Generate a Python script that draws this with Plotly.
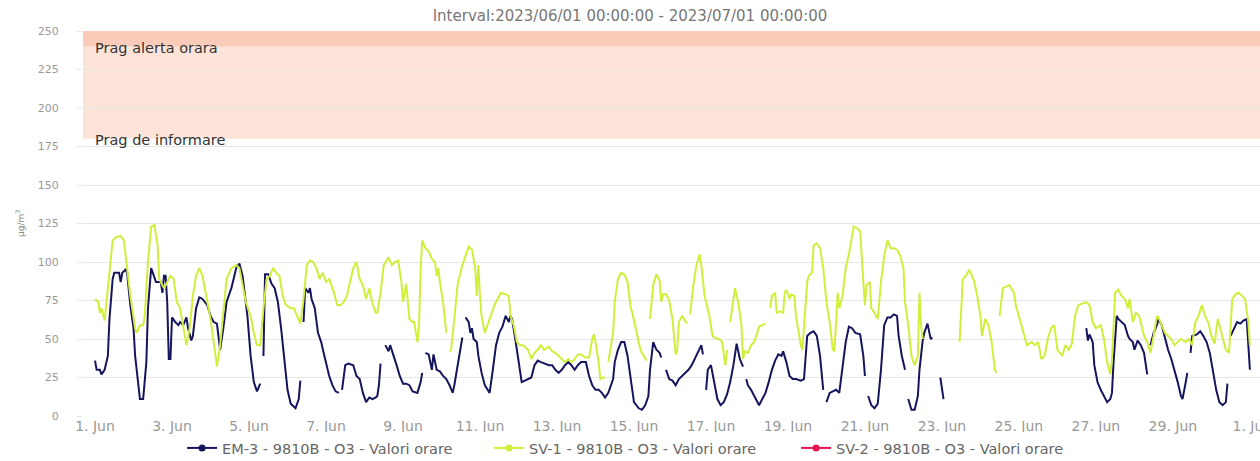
import pandas as pd
import plotly.graph_objects as go

# ---------------- data (hours since 2023-06-01 00:00, value in ug/m3) ----------------
em3_points = [
    (0,36),(1,30),(3,30),(4,27),(6,30),(8,39),(9,63),(11,89),(12,93),(15,93),(16,87),(17,93),(19,95),(20,93),
    (22,72),(24,57),(25,39),(27,22),(28,11),(30,11),(32,35),(33,70),(35,96),(36,93),(38,87),(41,87),(42,80),
    (43,91),(44,91),(45,74),(46,37),(47,37),(48,64),(50,61),(52,59),(53,61),(55,59),(57,64),(58,57),(60,49),
    (61,52),(63,70),(65,77),(67,76),(70,72),(72,65),(74,61),(76,60),(77,50),(78,43),(80,57),(82,74),(85,83),
    (88,96),(90,99),(92,91),(95,65),(97,39),(99,22),(101,16),(103,21),(104,None),(105,39),(106,92),(108,92),
    (110,86),(112,83),(114,74),(116,57),(118,35),(120,17),(122,8),(125,5),(127,11),(128,23),(129,None),
    (130,61),(131,83),(133,80),(134,83),(135,76),(137,70),(139,54),(141,48),(143,39),(146,26),(148,20),
    (150,16),(152,15),(153,None),(154,17),(156,33),(158,34),(161,33),(163,26),(165,24),(167,15),(169,9),
    (171,12),(173,11),(175,12),(176,13),(177,20),(178,34),(179,None),(181,46),(183,42),(184,46),(186,40),
    (188,33),(190,26),(192,21),(194,21),(196,20),(198,16),(201,15),(203,22),(204,28),(205,None),(206,41),
    (208,40),(210,30),(211,40),(213,30),(215,29),(217,26),(219,24),(221,20),(223,15),(224,20),(226,33),
    (228,43),(229,51),(230,None),(231,64),(233,61),(234,54),(235,57),(236,50),(238,48),(239,39),(241,28),
    (243,20),(245,17),(246,15),(248,30),(250,46),(252,54),(254,58),(256,65),(258,61),(259,65),(260,63),
    (262,50),(264,35),(266,22),(268,23),(270,24),(272,25),(274,33),(276,36),(278,35),(280,34),(283,33),
    (285,33),(287,30),(289,28),(291,30),(293,33),(295,35),(297,33),(299,30),(301,33),(303,35),(306,35),
    (308,26),(310,20),(312,17),(314,17),(316,15),(318,12),(320,15),(323,24),(324,35),(326,43),(328,48),
    (330,48),(332,39),(334,24),(336,9),(339,5),(341,4),(343,7),(345,13),(346,30),(348,48),(350,43),(352,41),
    (353,38),(354,None),(356,30),(358,24),(360,23),(362,20),(364,24),(366,26),(368,28),(370,30),(372,33),
    (374,37),(376,41),(378,46),(379,40),(380,None),(381,17),(382,30),(384,33),(386,22),(388,11),(390,7),
    (392,9),(394,14),(396,22),(398,33),(400,47),(402,37),(404,32),(405,None),(406,24),(407,20),(409,17),
    (411,13),(414,7),(416,11),(418,15),(420,22),(422,30),(424,36),(426,40),(428,39),(429,42),(431,35),
    (433,26),(435,24),(437,24),(440,23),(442,24),(444,52),(446,54),(448,55),(450,52),(452,39),(454,17),
    (455,None),(456,9),(458,15),(460,16),(462,17),(464,15),(466,33),(468,48),(470,58),(472,57),(474,54),
    (477,53),(479,39),(480,26),(481,None),(482,13),(484,7),(486,5),(488,8),(490,30),(492,59),(494,64),
    (496,64),(498,66),(500,65),(501,52),(503,39),(505,30),(506,None),(507,11),(509,4),(511,4),(513,13),
    (514,30),(516,49),(517,54),(519,60),(521,50),(522,51),(523,None),(527,25),(529,11),(530,None),
    (618,57),(619,49),(620,53),(622,48),(623,33),(625,22),(627,17),(629,13),(631,9),(633,11),(634,15),
    (635,35),(637,65),(638,63),(640,61),(642,59),(644,52),(645,50),(647,48),(648,43),(650,49),(652,46),
    (654,41),(655,35),(656,27),(657,None),(658,46),(660,54),(662,59),(663,63),(665,59),(667,50),(669,43),
    (671,37),(673,30),(675,22),(677,13),(678,11),(680,22),(681,28),(682,None),(683,41),(684,52),(687,53),
    (689,55),(691,52),(693,48),(695,41),(697,30),(699,17),(701,9),(703,7),(705,9),(706,21),(707,None),
    (708,52),(710,57),(712,61),(714,60),(716,62),(718,63),(719,43),(720,30),
]

sv1_points = [
    (0,76),(2,74),(3,67),(4,70),(6,62),(9,96),(11,114),(13,116),(16,117),(18,114),(21,89),(22,78),(25,57),
    (26,54),(28,59),(30,59),(31,65),(33,100),(35,123),(37,124),(39,111),(40,89),(43,83),(45,87),(47,91),
    (49,89),(51,74),(53,70),(55,57),(57,46),(59,57),(61,78),(63,91),(65,96),(67,91),(70,74),(72,63),(74,48),
    (76,32),(78,46),(80,70),(82,89),(85,96),(88,98),(90,96),(92,85),(94,74),(97,65),(99,54),(101,46),
    (103,46),(105,70),(107,89),(109,91),(111,96),(113,93),(115,91),(117,78),(119,72),(122,70),(124,70),
    (126,65),(128,60),(130,76),(132,98),(134,101),(136,100),(138,96),(140,89),(142,93),(144,87),(146,89),
    (149,80),(151,72),(153,72),(155,74),(157,78),(159,87),(161,96),(163,100),(165,89),(167,85),(169,76),
    (171,83),(173,73),(175,67),(176,67),(178,80),(180,98),(183,103),(185,98),(187,100),(189,101),(191,87),
    (192,74),(194,86),(195,72),(196,63),(198,61),(199,61),(201,48),(202,59),(203,96),(204,114),(206,109),
    (208,107),(210,102),(212,100),(213,91),(214,96),(215,87),(217,74),(219,54),(220,None),(221,42),(222,43),
    (224,63),(226,85),(229,98),(231,104),(233,110),(235,108),(237,96),(238,78),(239,98),(240,78),(241,65),
    (243,54),(244,57),(245,61),(247,67),(249,72),(251,76),(253,80),(256,79),(258,78),(259,65),(261,59),
    (263,48),(265,46),(267,46),(270,43),(272,37),(274,41),(276,43),(278,46),(280,43),(283,45),(285,42),
    (287,41),(289,39),(291,37),(293,35),(295,37),(297,35),(299,37),(301,40),(303,40),(306,38),(308,38),
    (310,50),(311,53),(312,48),(314,35),(315,24),(317,25),(318,25),(319,None),(320,35),(323,54),(324,74),
    (326,89),(328,93),(330,92),(332,87),(334,70),(335,67),(337,57),(340,43),(342,39),(344,36),(345,None),
    (346,63),(348,85),(350,92),(352,88),(353,74),(354,79),(356,79),(358,75),(360,63),(362,40),(363,43),
    (364,61),(366,65),(367,63),(369,60),(370,None),(371,66),(373,85),(375,98),(377,105),(378,98),(380,78),
    (381,74),(383,65),(385,52),(386,51),(389,50),(391,48),(392,40),(393,33),(394,43),(395,None),(396,61),
    (398,74),(399,83),(401,74),(403,59),(404,37),(405,42),(407,41),(409,46),(411,48),(414,58),(416,59),
    (418,60),(419,None),(421,70),(422,78),(424,80),(425,67),(427,68),(429,67),(430,80),(431,82),(433,76),
    (434,79),(436,78),(437,65),(440,46),(441,43),(444,87),(445,91),(447,93),(448,111),(450,112),(452,109),
    (454,96),(456,74),(458,61),(460,43),(461,42),(463,80),(464,70),(466,78),(468,96),(470,105),(472,117),
    (473,123),(475,122),(477,120),(479,87),(480,72),(481,85),(483,87),(484,70),(486,67),(488,63),(490,87),
    (492,104),(494,114),(496,109),(498,109),(500,108),(502,104),(504,96),(505,74),(507,59),(509,39),
    (511,33),(513,39),(514,80),(515,59),(516,50),(517,None),(539,48),(541,89),(543,91),(545,95),(548,88),
    (550,78),(552,65),(553,52),(555,63),(557,59),(559,48),(561,30),(562,28),(563,None),(564,65),(566,83),
    (568,84),(570,85),(573,80),(574,72),(577,61),(579,54),(581,46),(584,48),(586,46),(588,48),(590,37),
    (592,39),(594,50),(596,57),(598,59),(600,43),(603,39),(605,46),(607,43),(609,47),(611,65),(613,72),
    (615,73),(618,74),(620,72),(622,61),(624,57),(627,59),(629,50),(631,35),(633,27),(634,37),(636,80),
    (638,82),(640,78),(642,76),(644,70),(645,76),(647,61),(649,67),(651,65),(654,52),(656,48),(658,41),
    (660,52),(662,65),(663,64),(665,59),(667,54),(669,52),(671,50),(673,46),(675,48),(677,50),(680,48),
    (682,50),(684,46),(686,61),(688,65),(690,72),(692,65),(694,61),(696,52),(698,47),(700,63),(703,52),
    (705,43),(707,41),(709,76),(711,79),(713,80),(715,78),(717,76),(719,61),(720,46),
]

sv2_points = []  # no data in the interval

series_names = [
    "EM-3 - 9810B - O3 - Valori orare",
    "SV-1 - 9810B - O3 - Valori orare",
    "SV-2 - 9810B - O3 - Valori orare",
]
series_colors = ["#15155e", "#d2ee3c", "#e8134f"]

tick_dates = ["2023-06-01", "2023-06-03", "2023-06-05", "2023-06-07", "2023-06-09", "2023-06-11",
              "2023-06-13", "2023-06-15", "2023-06-17", "2023-06-19", "2023-06-21", "2023-06-23",
              "2023-06-25", "2023-06-27", "2023-06-29", "2023-07-01"]
tick_labels = ["1. Jun", "3. Jun", "5. Jun", "7. Jun", "9. Jun", "11. Jun", "13. Jun", "15. Jun",
               "17. Jun", "19. Jun", "21. Jun", "23. Jun", "25. Jun", "27. Jun", "29. Jun", "1. Jul"]

bands = [(180, 240, "#fde3d8"), (240, 250, "#f9cbb8")]
band_labels = [(240, "Prag alerta orara", -2), (180, "Prag de informare", -1)]

title_text = "Interval:2023/06/01 00:00:00 - 2023/07/01 00:00:00"

# ---------------- figure ----------------
start = pd.Timestamp("2023-06-01 00:00")
FONT = "DejaVu Sans, Liberation Sans, Arial, sans-serif"


def to_xy(points):
    xs = [start + pd.Timedelta(hours=h) for h, _ in points]
    ys = [v for _, v in points]
    return xs, ys


fig = go.Figure()
for pts, name, color in zip([em3_points, sv1_points, sv2_points], series_names, series_colors):
    xs, ys = to_xy(pts)
    fig.add_trace(go.Scatter(x=xs, y=ys, mode="lines", name=name, legendgroup=name,
                             line=dict(color=color, width=2), connectgaps=False,
                             showlegend=False, hoverinfo="x+y"))
    # legend entry (line + circle symbol like the original)
    fig.add_trace(go.Scatter(x=[None], y=[None], mode="lines+markers", name=name, legendgroup=name,
                             line=dict(color=color, width=2), marker=dict(color=color, size=7)))

for y0, y1, col in bands:
    fig.add_shape(type="rect", xref="paper", yref="y", x0=0, x1=1, y0=y0, y1=y1,
                  fillcolor=col, line=dict(width=0), layer="below")

for yv, txt, ys in band_labels:
    fig.add_annotation(xref="paper", yref="y", x=0, y=yv, xanchor="left", yanchor="middle",
                       xshift=10, yshift=ys, text=txt, showarrow=False,
                       font=dict(family=FONT, size=14.5, color="#333333"))

fig.add_annotation(xref="paper", yref="paper", x=-0.054, y=0.5, xanchor="center", yanchor="middle",
                   text="µg/m<sup>3</sup>", textangle=-90, showarrow=False,
                   font=dict(family=FONT, size=9, color="#888888"))

fig.update_layout(
    width=1260, height=461,
    margin=dict(l=83, r=0, t=31, b=45, autoexpand=False),
    paper_bgcolor="white", plot_bgcolor="rgba(0,0,0,0)",
    title=dict(text=title_text, x=0.5, xref="container", xanchor="center",
               y=1 - 16 / 461, yref="container", yanchor="middle",
               font=dict(family=FONT, size=15, color="#777777")),
    font=dict(family=FONT),
    showlegend=True,
    legend=dict(orientation="h", xref="container", yref="container", x=0.51, y=1 - 448 / 461,
                xanchor="center", yanchor="middle", font=dict(family=FONT, size=14.5, color="#666666"),
                itemwidth=30, entrywidth=262, entrywidthmode="pixels", tracegroupgap=0),
    hovermode="x",
)

fig.update_xaxes(
    type="date", automargin=False,
    range=[start - pd.Timedelta(hours=7.5), start + pd.Timedelta(hours=726.3)],
    tickmode="array", tickvals=tick_dates, ticktext=tick_labels,
    showgrid=False, zeroline=False, showline=False, ticks="",
    ticklabeloverflow="allow",
    tickfont=dict(family=FONT, size=14, color="#999999"),
)
fig.update_yaxes(
    range=[0, 250], tickmode="linear", tick0=0, dtick=25, automargin=False,
    showgrid=True, gridcolor="#e6e6e6", gridwidth=1, zeroline=False,
    ticks="outside", ticklen=5, tickcolor="#e6e6e6",
    ticklabelstandoff=16,
    tickfont=dict(family=FONT, size=11, color="#999999"),
)

# the page is photographed at exactly the figure size: remove the default body margin
fig.write_html("out.html", config={"displayModeBar": False},
               post_script="document.body.style.margin='0';document.body.style.overflow='hidden';")
